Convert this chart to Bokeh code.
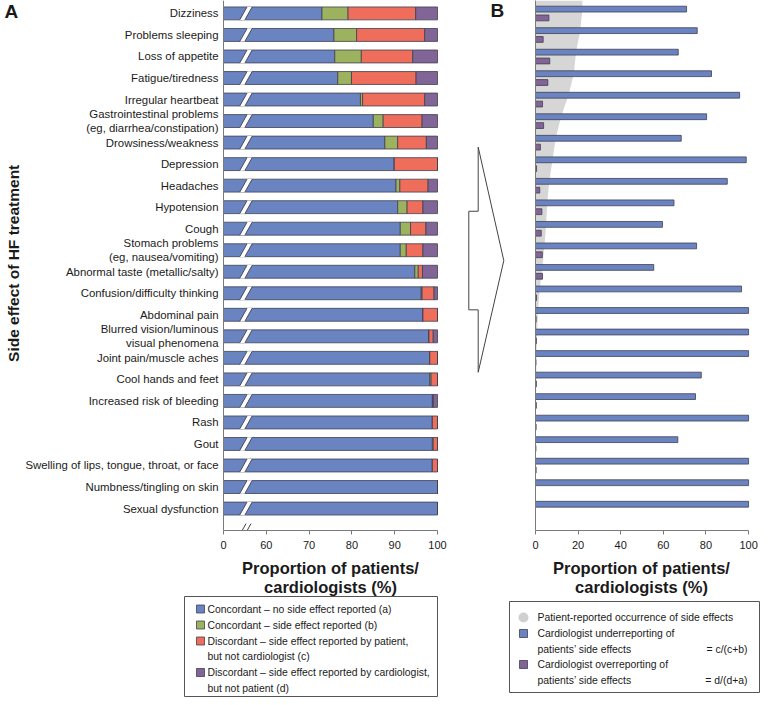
import math
from bokeh.plotting import figure
from bokeh.layouts import row, column
from bokeh.models import Range1d, FixedTicker, ColumnDataSource, Span
from bokeh.embed import file_html
from bokeh.resources import INLINE
from bokeh.core.properties import value

# ---------------- data ----------------
side_effects = [
    "Dizziness", "Problems sleeping", "Loss of appetite", "Fatigue/tiredness",
    "Irregular heartbeat", "Gastrointestinal problems\n(eg, diarrhea/constipation)",
    "Drowsiness/weakness", "Depression", "Headaches", "Hypotension", "Cough",
    "Stomach problems\n(eg, nausea/vomiting)", "Abnormal taste (metallic/salty)",
    "Confusion/difficulty thinking", "Abdominal pain",
    "Blurred vision/luminous\nvisual phenomena", "Joint pain/muscle aches",
    "Cool hands and feet", "Increased risk of bleeding", "Rash", "Gout",
    "Swelling of lips, tongue, throat, or face", "Numbness/tingling on skin",
    "Sexual dysfunction",
]
# Panel A (% of patient/cardiologist pairs)
concordant_none = [73.0, 75.8, 76.0, 76.7, 82.0, 85.0, 87.7, 89.9, 90.3, 90.7, 91.3, 91.3,
                   94.7, 96.2, 96.6, 98.0, 98.2, 98.2, 98.8, 98.8, 98.8, 98.8, 100.0, 100.0]
concordant_se = [6.1, 5.3, 6.2, 3.2, 0.5, 2.3, 3.0, 0.0, 0.9, 2.2, 2.4, 1.4,
                 0.8, 0.2, 0.0, 0.0, 0.0, 0.3, 0.2, 0.0, 0.2, 0.0, 0.0, 0.0]
discordant_patient = [15.8, 15.9, 12.0, 15.1, 14.5, 9.1, 6.7, 10.1, 6.6, 3.7, 3.6, 3.9,
                      1.0, 2.8, 3.4, 1.0, 1.8, 1.5, 0.0, 1.2, 1.0, 1.2, 0.0, 0.0]
discordant_cardio = [5.1, 3.0, 5.8, 5.0, 3.0, 3.6, 2.6, 0.0, 2.2, 3.4, 2.7, 3.4,
                     3.5, 0.8, 0.0, 1.0, 0.0, 0.0, 1.0, 0.0, 0.0, 0.0, 0.0, 0.0]
# Panel B (%)
patient_occurrence = [22, 21, 19, 18, 15.5, 12, 9.5, 8, 6.5, 5.5, 5, 4.2,
                      3.2, 2, 1.2, 0.8, 0.5, 0.4, 0.3, 0.3, 0.2, 0.2, 0, 0]
underreporting = [70.9, 75.9, 67.0, 82.6, 95.8, 80.3, 68.4, 98.9, 90.0, 65.0, 59.6, 75.6,
                  55.5, 96.7, 100, 100, 100, 77.8, 75.1, 100, 66.8, 100, 100, 100]
overreporting = [6.3, 3.6, 6.7, 5.8, 3.3, 3.8, 2.3, 0.5, 2.0, 3.0, 2.7, 3.2,
                 3.3, 0.5, 0.3, 0.4, 0.2, 0.4, 0.4, 0.3, 0.2, 0.3, 0.0, 0.0]

a_ticks = [50, 60, 70, 80, 90, 100]
a_tick_labels = {50: "0"}
b_ticks = [0, 20, 40, 60, 80, 100]
x_title = ["Proportion of patients/", "cardiologists (%)"]
y_title = "Side effect of HF treatment"
panel_letters = ["A", "B"]

legend_a_labels = [
    ["Concordant \u2013 no side effect reported (a)"],
    ["Concordant \u2013 side effect reported (b)"],
    ["Discordant \u2013 side effect reported by patient,", "but not cardiologist (c)"],
    ["Discordant \u2013 side effect reported by cardiologist,", "but not patient (d)"],
]
legend_b_labels = [
    ["Patient-reported occurrence of side effects"],
    ["Cardiologist underreporting of", "patients\u2019 side effects"],
    ["Cardiologist overreporting of", "patients\u2019 side effects"],
]
legend_b_formulas = ["= c/(c+b)", "= d/(d+a)"]

# ---------------- style ----------------
FONT = "Liberation Sans"
BLUE, GREEN, RED, PURPLE = "#6A84C2", "#9CB25E", "#EE6D5B", "#816596"
GREY_AREA = "#D6D6D6"
EDGE = "#404050"
AXIS = "#7a7a7a"
TXT = "#1a1a1a"

rows = list(range(len(side_effects)))
Y_TOP, Y_BOT = -0.6, 24.02
yr = Range1d(start=Y_BOT, end=Y_TOP)
TOP_H = 555
BOTTOM_BORDER = 25
A_FRAME_LEFT = 223          # px where value 50 ("0" of the broken axis) sits
A_PX_PER_UNIT = 214 / 50    # px per percentage point in panel A
A_WIDTH = 515


def a_x(px):  # panel A data x for a pixel column (for decorations only)
    return 50 + (px - A_FRAME_LEFT) / A_PX_PER_UNIT


def style_x_axis(ax):
    ax.major_label_text_font = FONT
    ax.major_label_text_font_size = "11px"
    ax.major_label_text_color = TXT
    ax.major_label_standoff = 6
    ax.major_tick_in = 0
    ax.major_tick_out = 4
    ax.minor_tick_line_color = None
    ax.axis_line_color = AXIS
    ax.major_tick_line_color = AXIS


# ---------------- panel A ----------------
pa = figure(width=A_WIDTH, height=TOP_H, x_range=Range1d(a_x(0), a_x(A_WIDTH)), y_range=yr,
            output_backend="svg", toolbar_location=None, y_axis_location=None,
            min_border_left=0, min_border_right=0, min_border_top=0,
            min_border_bottom=BOTTOM_BORDER)
pa.outline_line_color = None
pa.grid.visible = False

src = ColumnDataSource(dict(row=rows, a=concordant_none, b=concordant_se,
                            c=discordant_patient, d=discordant_cardio))
pa.hbar_stack(["a", "b", "c", "d"], y="row", height=0.6, source=src,
              fill_color=[BLUE, GREEN, RED, PURPLE], line_color=EDGE, line_width=0.8)

# axis break slashes across the bars
brk_xs = [[53.8, 55.0, 56.7, 55.5] for r in rows]
brk_ys = [[r + 0.31, r + 0.31, r - 0.31, r - 0.31] for r in rows]
pa.patches(brk_xs, brk_ys, fill_color="white", line_color=None)
edge_xs = [[53.8, 55.5] for r in rows] + [[55.0, 56.7] for r in rows]
edge_ys = [[r + 0.3, r - 0.3] for r in rows] * 2
pa.multi_line(edge_xs, edge_ys, line_color=EDGE, line_width=0.9)
# break mark on the axis
pa.multi_line([[53.85, 55.26], [55.02, 56.43]], [[24.2, 23.7], [24.2, 23.7]],
              line_color="#444444", line_width=1)

# white mask: the broken axis starts at 50 (labelled "0"), hide the bars left of it
pa.quad(left=[a_x(-2)], right=[50], bottom=[Y_BOT], top=[Y_TOP],
        fill_color="white", line_color=None)

# vertical axis line of panel A
pa.add_layout(Span(location=50, dimension="height", line_color=AXIS, line_width=1))

# category labels (left of the axis)
lab_y, lab_t = [], []
for i, s in enumerate(side_effects):
    parts = s.split("\n")
    n = len(parts)
    for k, part in enumerate(parts):
        lab_y.append(i + (k - (n - 1) / 2) * 0.66)
        lab_t.append(part)
pa.text(x=a_x(A_FRAME_LEFT - 5), y=lab_y, text=lab_t, text_font=value(FONT),
        text_font_size="11.4px", text_align="right", text_baseline="middle",
        text_color=TXT)

# y-axis title
pa.text(x=[a_x(13)], y=[(Y_TOP + Y_BOT) / 2 - 0.1], text=[y_title], angle=math.pi / 2,
        text_font=value(FONT), text_font_style="bold", text_font_size="15.5px",
        text_align="center", text_baseline="middle", text_color=TXT)

# panel letters
pa.text(x=[a_x(4), a_x(490)], y=[-0.1, -0.14], text=panel_letters, text_font=value(FONT),
        text_font_style="bold", text_font_size="19px", text_baseline="middle",
        text_color=TXT)

# arrow between panels
pa.patch([a_x(477.7), a_x(503.3), a_x(477.7), a_x(477.7), a_x(468.3), a_x(468.3), a_x(477.7)],
         [6.21, 11.48, 16.67, 13.77, 13.77, 9.19, 9.19],
         fill_color="white", line_color="#444444", line_width=1)

style_x_axis(pa.xaxis[0])
pa.xaxis.ticker = FixedTicker(ticks=a_ticks)
pa.xaxis.major_label_overrides = a_tick_labels
pa.xaxis.bounds = (50, 100)

# ---------------- panel B ----------------
pb = figure(width=245, height=TOP_H, x_range=Range1d(0, 105.6), y_range=yr,
            output_backend="svg", toolbar_location=None,
            min_border_left=20, min_border_right=0, min_border_top=0,
            min_border_bottom=BOTTOM_BORDER)
pb.outline_line_color = None
pb.grid.visible = False

area_y = [Y_TOP] + [r - 0.2 for r in rows]
area_x = [patient_occurrence[0]] + patient_occurrence
pb.harea(y=area_y, x1=0, x2=area_x, fill_color=GREY_AREA)

pb.hbar(y=[r - 0.2 for r in rows], left=0, right=underreporting, height=0.27,
        fill_color=BLUE, line_color=EDGE, line_width=0.8)
pb.hbar(y=[r + 0.21 for r in rows], left=0, right=overreporting, height=0.27,
        fill_color=PURPLE, line_color=EDGE, line_width=0.8)

style_x_axis(pb.xaxis[0])
pb.xaxis.ticker = FixedTicker(ticks=b_ticks)
pb.xaxis.bounds = (0, 100)
yb = pb.yaxis[0]
yb.ticker = FixedTicker(ticks=[])
yb.major_label_text_font_size = "0px"
yb.major_tick_out = 0
yb.major_tick_in = 0
yb.minor_tick_line_color = None
yb.axis_line_color = AXIS

# ---------------- bottom strip: axis titles and legends (pixel coordinates) ----------------
BOT_TOP, BOT_BOTTOM, W = TOP_H, 697, 760
pl = figure(width=W, height=BOT_BOTTOM - BOT_TOP, x_range=Range1d(0, W),
            y_range=Range1d(BOT_BOTTOM, BOT_TOP), output_backend="svg",
            toolbar_location=None, x_axis_location=None, y_axis_location=None,
            min_border_left=0, min_border_right=0, min_border_top=0, min_border_bottom=0)
pl.outline_line_color = None
pl.grid.visible = False

# x-axis titles, centred under each panel's 0-100 axis
for xc in (330, 641):
    pl.text(x=[xc, xc], y=[567.5, 586.5], text=x_title, text_font=value(FONT),
            text_font_style="bold", text_font_size="16.5px", text_align="center",
            text_baseline="middle", text_color=TXT)

# legend boxes
pl.quad(left=[184, 509], right=[437, 759], top=[596, 601], bottom=[696, 692],
        fill_color=None, line_color="#555555", line_width=1)

# legend A
la_item_y = [608.5, 624.5, 640.5, 672]
pl.rect(x=200, y=la_item_y, width=8, height=8,
        fill_color=[BLUE, GREEN, RED, PURPLE], line_color=EDGE, line_width=0.8)
tx, ty, tt = [], [], []
for yy, lines in zip(la_item_y, legend_a_labels):
    for k, ln in enumerate(lines):
        tx.append(207)
        ty.append(yy + 15.5 * k)
        tt.append(ln)
pl.text(x=tx, y=ty, text=tt, text_font=value(FONT), text_font_size="10.4px",
        text_baseline="middle", text_color=TXT)

# legend B
lb_item_y = [617, 633, 664]
pl.scatter(x=[523], y=[lb_item_y[0]], size=10, marker="circle", fill_color="#D0D0D0",
           line_color=None)
pl.rect(x=523, y=lb_item_y[1:], width=8, height=8,
        fill_color=[BLUE, PURPLE], line_color=EDGE, line_width=0.8)
tx, ty, tt = [], [], []
for yy, lines in zip(lb_item_y, legend_b_labels):
    for k, ln in enumerate(lines):
        tx.append(537)
        ty.append(yy + 15.5 * k)
        tt.append(ln)
pl.text(x=tx, y=ty, text=tt, text_font=value(FONT), text_font_size="10.4px",
        text_baseline="middle", text_color=TXT)
pl.text(x=[747, 747], y=[y + 15.5 for y in lb_item_y[1:]], text=legend_b_formulas,
        text_font=value(FONT), text_font_size="10.4px", text_baseline="middle",
        text_align="right", text_color=TXT)

layout = column(row(pa, pb), pl)
open("out.html", "w").write(file_html(layout, INLINE))
